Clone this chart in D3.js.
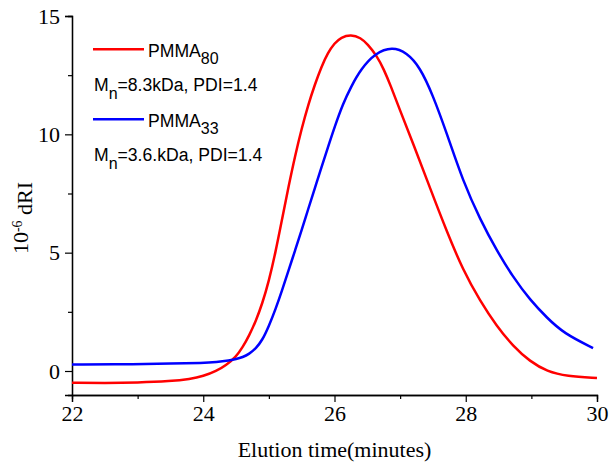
<!DOCTYPE html>
<html>
<head>
<meta charset="utf-8">
<script src="https://cdn.jsdelivr.net/npm/d3@7"></script>
<style>
  html, body { margin: 0; padding: 0; background: #fff; }
  svg { display: block; }
</style>
</head>
<body>
<svg id="chart" width="609" height="464"></svg>
<script>
// ---- data ----
const redTime = [22.0, 22.5, 23.0, 23.5, 23.8, 24.0, 24.2, 24.35, 24.5, 24.6, 24.7, 24.8, 24.9, 25.0, 25.1, 25.2, 25.3, 25.4, 25.5, 25.6, 25.7, 25.8, 25.9, 26.0, 26.1, 26.25, 26.4, 26.5, 26.65, 26.75, 26.85, 27.0, 27.2, 27.46, 27.71, 27.96, 28.22, 28.47, 28.72, 28.98, 29.24, 29.54, 30.0];
const redValue = [-0.50, -0.51, -0.49, -0.43, -0.34, -0.22, 0.0, 0.25, 0.6, 1.0, 1.5, 2.1, 2.85, 3.8, 5.0, 6.4, 7.8, 9.1, 10.25, 11.25, 12.1, 12.85, 13.45, 13.85, 14.1, 14.22, 14.08, 13.82, 13.3, 12.75, 12.1, 11.0, 9.6, 7.7, 5.9, 4.25, 2.95, 1.9, 1.05, 0.4, -0.02, -0.22, -0.3];
const blueTime = [22.0, 23.0, 23.5, 24.0, 24.2, 24.4, 24.5, 24.6, 24.7, 24.8, 24.9, 25.0, 25.1, 25.2, 25.3, 25.4, 25.5, 25.6, 25.7, 25.8, 25.9, 26.0, 26.13, 26.25, 26.4, 26.62, 26.88, 27.1, 27.3, 27.5, 27.71, 27.96, 28.22, 28.47, 28.72, 28.98, 29.24, 29.49, 29.94];
const blueValue = [0.27, 0.29, 0.31, 0.34, 0.38, 0.45, 0.5, 0.58, 0.72, 0.95, 1.3, 1.9, 2.6, 3.4, 4.25, 5.1, 5.95, 6.85, 7.72, 8.6, 9.45, 10.3, 11.3, 12.0, 12.75, 13.43, 13.7, 13.45, 12.85, 11.65, 10.05, 8.0, 6.4, 5.1, 3.97, 3.0, 2.24, 1.6, 0.97];
const xTicks = [22, 24, 26, 28, 30];
const xMinorTicks = [23, 25, 27, 29];
const yTicks = [0, 5, 10, 15];
const yMinorTicks = [2.5, 7.5, 12.5];
const seriesNames = ["PMMA", "PMMA"];
const seriesSubs = ["80", "33"];
const seriesNotes = ["=8.3kDa, PDI=1.4", "=3.6.kDa, PDI=1.4"];
const seriesColors = ["#ff0000", "#0000ff"];

// ---- layout ----
const svg = d3.select("#chart");
const plotLeft = 72, plotRight = 597, plotTop = 16, plotBottom = 395;
const x = d3.scaleLinear().domain([22, 30]).range([plotLeft, plotRight]);
const y = d3.scaleLinear().domain([-1.0141, 15]).range([plotBottom, plotTop]);

const serif = "'Liberation Serif', 'Times New Roman', serif";
const sans = "'Liberation Sans', Arial, sans-serif";

// axes
const xAxis = d3.axisBottom(x).tickValues(xTicks).tickSize(7).tickPadding(3).tickFormat(d3.format("d"));
const xMinor = d3.axisBottom(x).tickValues(xMinorTicks).tickSize(4).tickFormat("");
const yAxis = d3.axisLeft(y).tickValues(yTicks).tickSize(7).tickPadding(5).tickFormat(d3.format("d"));
const yMinor = d3.axisLeft(y).tickValues(yMinorTicks).tickSize(4).tickFormat("");

function styleAxis(g) {
  g.select(".domain").attr("stroke", "#000").attr("stroke-width", 1.3);
  g.selectAll(".tick line").attr("stroke", "#000").attr("stroke-width", 1.2);
  g.selectAll(".tick text").attr("fill", "#000").style("font-family", serif).style("font-size", "22px");
}

svg.append("g").attr("transform", `translate(0,${plotBottom})`).call(xMinor).call(styleAxis);
svg.append("g").attr("transform", `translate(0,${plotBottom})`).call(xAxis).call(styleAxis);
svg.append("g").attr("transform", `translate(${plotLeft},0)`).call(yMinor).call(styleAxis);
svg.append("g").attr("transform", `translate(${plotLeft},0)`).call(yAxis).call(styleAxis);

// axis titles
svg.append("text")
  .attr("x", (plotLeft + plotRight) / 2).attr("y", 457)
  .attr("text-anchor", "middle")
  .style("font-family", serif).style("font-size", "22px").attr("fill", "#000")
  .text("Elution time(minutes)");

const yt = svg.append("text")
  .attr("transform", "translate(28,218) rotate(-90)")
  .attr("text-anchor", "middle")
  .style("font-family", serif).style("font-size", "22px").attr("fill", "#000");
yt.append("tspan").text("10");
yt.append("tspan").attr("dy", "-0.45em").style("font-size", "14px").text("-6");
yt.append("tspan").attr("dy", "0.45em").text(" dRI");

// curves
const line = d3.line().x(d => x(d[0])).y(d => y(d[1])).curve(d3.curveBasis);
const series = [
  d3.zip(redTime, redValue),
  d3.zip(blueTime, blueValue)
];
series.forEach((s, i) => {
  svg.append("path").datum(s)
    .attr("d", line)
    .attr("fill", "none")
    .attr("stroke", seriesColors[i])
    .attr("stroke-width", 2.5)
    .attr("stroke-linejoin", "round");
});

// legend
const legendY = [49.3, 119.3];
seriesNames.forEach((name, i) => {
  const ly = legendY[i];
  svg.append("line")
    .attr("x1", 93).attr("x2", 144).attr("y1", ly).attr("y2", ly)
    .attr("stroke", seriesColors[i]).attr("stroke-width", 2.5);
  const t = svg.append("text")
    .attr("x", 148).attr("y", ly + 7.4)
    .style("font-family", sans).style("font-size", "17.6px").attr("fill", "#000");
  t.append("tspan").text(name);
  t.append("tspan").attr("dy", 7.4).style("font-size", "16px").text(seriesSubs[i]);
  const n = svg.append("text")
    .attr("x", 94).attr("y", ly + 41.7)
    .style("font-family", sans).style("font-size", "17.6px").attr("fill", "#000");
  n.append("tspan").text("M");
  n.append("tspan").attr("dy", 7.5).style("font-size", "16px").text("n");
  n.append("tspan").attr("dy", -7.5).text(seriesNotes[i]);
});
</script>
</body>
</html>
